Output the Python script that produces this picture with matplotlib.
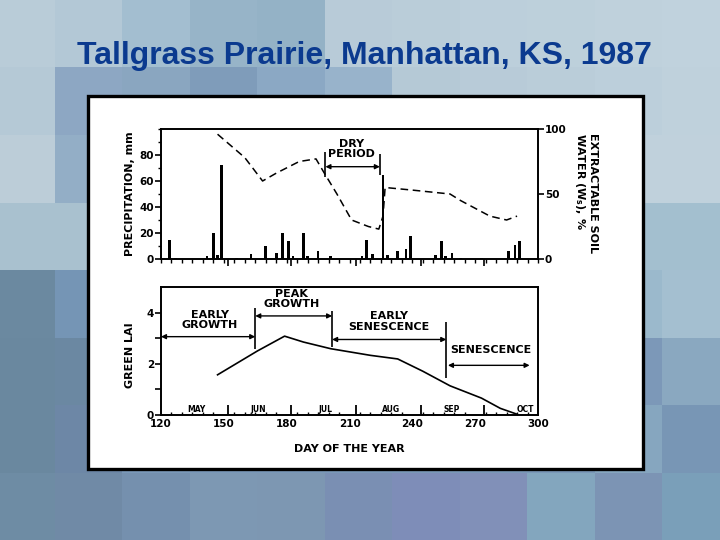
""" Tallgrass prairie, Manhattan KS, 1987 - precipitation, soil water and green LAI
"""
import numpy as np
import matplotlib
matplotlib.use('Agg')
import matplotlib.pyplot as plt
from matplotlib.colors import to_rgb
from matplotlib.patches import Rectangle
from matplotlib.ticker import MultipleLocator

plt.rcParams['font.family'] = ['DejaVu Sans']
plt.rcParams['font.weight'] = 'bold'
plt.rcParams['axes.labelweight'] = 'bold'

########
# Data #
########
title = 'Tallgrass Prairie, Manhattan, KS, 1987'

# Daily precipitation events (day of year, mm)
rain_day = [124, 127, 142, 145, 147, 149, 156, 163, 170, 175, 178, 181, 183,
            188, 190, 195, 201, 216, 218, 221, 226, 228, 233, 237, 239, 251,
            254, 256, 259, 263, 273, 286, 289, 291]
rain_mm = [15, 1, 2, 20, 3, 72, 0.5, 4, 10, 5, 20, 14, 2,
           20, 2, 6, 2, 2, 15, 4, 65, 3, 6, 8, 18, 3,
           14, 2, 5, 1, 1, 6, 11, 14]

# Extractable soil water (%)
sw_day = [147, 160, 168.5, 175, 186, 194, 198, 204, 211, 219, 224, 226, 227,
          240, 258, 263, 270, 277, 285, 290]
sw_pct = [96, 78, 60, 66, 75, 77, 66, 50, 30, 25, 23, 33, 55,
          53, 50, 45, 39, 33, 30, 33]

# Green leaf area index
lai_day = [147, 166, 179, 188, 201, 220, 233, 245, 258, 273, 282, 290]
lai = [1.57, 2.5, 3.08, 2.85, 2.59, 2.33, 2.19, 1.71, 1.14, 0.66, 0.26, 0.03]

# Calendar
month_start = [152, 182, 213, 244, 274]
month_names = ['MAY', 'JUN', 'JUL', 'AUG', 'SEP', 'OCT']
month_label_day = [137, 166.5, 198.5, 230, 259, 294]

# Dry period and phenology phases
dry_period = [198.5, 224.5]
phase_bounds = [120, 165, 201.7, 256.2, 296]
phase_names = ['EARLY\nGROWTH', 'PEAK\nGROWTH', 'EARLY\nSENESCENCE', 'SENESCENCE']

# Slide background tiles (8 rows x 11 cols)
tile_colors = [
    ['#b9ccd8', '#b3c8d6', '#a3bed0', '#97b4c8', '#94b2c6', '#b8cbd8', '#bacdd9', '#bccfdb', '#bdd0db', '#bfd1dc', '#c0d2dd'],
    ['#b5c9d6', '#8da7c3', '#8aa6c0', '#7f9cba', '#8ba8c4', '#98b3cb', '#b5c9d6', '#b8cbd8', '#bacdd9', '#bccfdb', '#bfd1dc'],
    ['#bccdd8', '#93aec6', '#a9c2d2', '#a9c2d2', '#a9c2d2', '#a9c2d2', '#a9c2d2', '#a9c2d2', '#a9c2d2', '#c0d1dc', '#c0d1dc'],
    ['#a9c1cf', '#a9c1cf', '#a9c1cf', '#a9c1cf', '#a9c1cf', '#a9c1cf', '#a9c1cf', '#a9c1cf', '#a9c1cf', '#a3bfcf', '#a3bfcf'],
    ['#6b89a0', '#7595b5', '#7a98b8', '#7a98b8', '#7a98b8', '#7a98b8', '#7a98b8', '#7a98b8', '#7a98b8', '#9bb9cc', '#a4bfd0'],
    ['#6a889f', '#6b88a2', '#7a98b8', '#7a98b8', '#7a98b8', '#7a98b8', '#7a98b8', '#7a98b8', '#7a98b8', '#7c98b8', '#8aa8c0'],
    ['#6a889f', '#6d87a6', '#7a98b8', '#7a98b8', '#7a98b8', '#7a98b8', '#7a98b8', '#7a98b8', '#7a98b8', '#86a6bf', '#7896b5'],
    ['#6e8ca4', '#708aa6', '#7590ae', '#7d98b3', '#7d97b2', '#7a8fb3', '#7e8db8', '#8190b8', '#83a6be', '#7c94b4', '#7a9fb9'],
]

#########
# Slide #
#########
fig = plt.figure(figsize=(7.2, 5.4), dpi=100)
bg = fig.add_axes([0, 0, 1, 1])
bg.axis('off')
tiles = np.array([[to_rgb(c) for c in row] for row in tile_colors])
bg.imshow(tiles, extent=(-12.5, 730, 540.5, 0.5), interpolation='nearest', aspect='auto')
bg.set_xlim(0, 720)
bg.set_ylim(540, 0)
bg.add_patch(Rectangle((88, 96), 555, 373, facecolor='white', edgecolor='black', lw=2.4))
bg.text(364, 56, title, ha='center', va='center', fontsize=23,
        family='Liberation Sans', weight='bold', color='#0b3a8f')

TICK = 7.5
LAB = 8

##################
# Top panel      #
##################
ax1 = fig.add_axes([161/720, 1 - 259/540, 377/720, 130/540])
ax1.bar(rain_day, rain_mm, width=1.3, color='black')
ax1.set_xlim(120, 300)
ax1.set_ylim(0, 100)
ax1.spines['right'].set_visible(False)
for s in ['left', 'top', 'bottom']:
    ax1.spines[s].set_linewidth(1.4)
ax1.set_yticks([0, 20, 40, 60, 80])
ax1.yaxis.set_minor_locator(MultipleLocator(10))
ax1.tick_params(axis='y', which='major', length=4, width=1.2, pad=1, labelsize=TICK)
ax1.tick_params(axis='y', which='minor', length=2.5, width=1)
ax1.set_xticks(month_start)
ax1.xaxis.set_minor_locator(MultipleLocator(5))
ax1.tick_params(axis='x', which='major', length=5, width=1.2, labelbottom=False)
ax1.tick_params(axis='x', which='minor', length=3, width=1)
ax1.set_ylabel('PRECIPITATION, mm', fontsize=LAB)
ax1.yaxis.set_label_coords(-0.069, 0.5)

ax2 = ax1.twinx()
ax2.plot(sw_day, sw_pct, color='black', ls='--', dashes=(5, 3), lw=1.1)
ax2.set_ylim(0, 100)
ax2.spines['right'].set_linewidth(1.4)
for s in ['left', 'top', 'bottom']:
    ax2.spines[s].set_visible(False)
ax2.set_yticks([0, 50, 100])
ax2.tick_params(axis='y', length=4, width=1.2, pad=1, labelsize=TICK)
ax2.text(1.1247, 0.969, 'EXTRACTABLE SOIL\nWATER (W$_{\\mathbf{s}}$), %', transform=ax2.transAxes,
         rotation=-90, rotation_mode='anchor', ha='left', va='center',
         multialignment='left', fontsize=LAB, linespacing=1.1)

# Dry period marker
ax1.vlines(dry_period[0], 63, 82, color='black', lw=1.2)
ax1.vlines(dry_period[1], 64.5, 81, color='black', lw=1.2)
ax1.annotate('', xy=(dry_period[0], 71), xytext=(dry_period[1], 71),
             arrowprops=dict(arrowstyle='<|-|>', color='black', lw=1,
                             mutation_scale=7, shrinkA=0, shrinkB=0))
ax1.text(211, 84.5, 'DRY\nPERIOD', ha='center', va='center', fontsize=LAB, linespacing=1.0)

##################
# Bottom panel   #
##################
ax3 = fig.add_axes([161/720, 1 - 415/540, 377/720, 128/540])
ax3.plot(lai_day, lai, color='black', lw=1.2)
ax3.set_xlim(120, 300)
ax3.set_ylim(0, 5)
for s in ax3.spines.values():
    s.set_linewidth(1.4)
ax3.set_xticks(range(120, 301, 30))
ax3.xaxis.set_minor_locator(MultipleLocator(5))
ax3.tick_params(axis='x', which='major', length=0, pad=3, labelsize=TICK)
ax3.tick_params(axis='x', which='minor', direction='in', length=2.5, width=1)
ax3.set_yticks([0, 1, 2, 3, 4], labels=['0', '', '2', '', '4'])
ax3.tick_params(axis='y', length=4, width=1.2, pad=1, labelsize=TICK)
ax3.set_ylabel('GREEN LAI', fontsize=LAB)
ax3.yaxis.set_label_coords(-0.069, 0.47)
ax3.set_xlabel('DAY OF THE YEAR', fontsize=LAB, labelpad=11)

# month boundaries and names
ax3.vlines(month_start, 0, 0.4, color='black', lw=1.3)
for d, m in zip(month_label_day, month_names):
    ax3.text(d, 0.22, m, ha='center', va='center', fontsize=5.5)

# phase boundaries
ax3.vlines(phase_bounds[1], 2.56, 4.17, color='black', lw=1.2)
ax3.vlines(phase_bounds[2], 2.64, 4.05, color='black', lw=1.2)
ax3.vlines(phase_bounds[3], 1.46, 3.62, color='black', lw=1.2)

arrow_y = [3.06, 3.87, 2.95, 1.94]
text_pos = [(143.4, 3.7), (182.5, 4.53), (228.8, 3.66), (277.4, 2.53)]
starts = [120, 165, 201.7, 257]
ends = [165, 201.7, 256.2, 296]
for a, b, y, (tx, ty), name in zip(starts, ends, arrow_y, text_pos, phase_names):
    ax3.annotate('', xy=(a, y), xytext=(b, y),
                 arrowprops=dict(arrowstyle='<|-|>', color='black', lw=1,
                                 mutation_scale=7, shrinkA=0, shrinkB=0))
    ax3.text(tx, ty, name, ha='center', va='center', fontsize=LAB, linespacing=1.05,
             bbox=dict(fc='white', ec='none', pad=0.5), zorder=5, clip_on=False)

fig.savefig('out.png', dpi=100)
